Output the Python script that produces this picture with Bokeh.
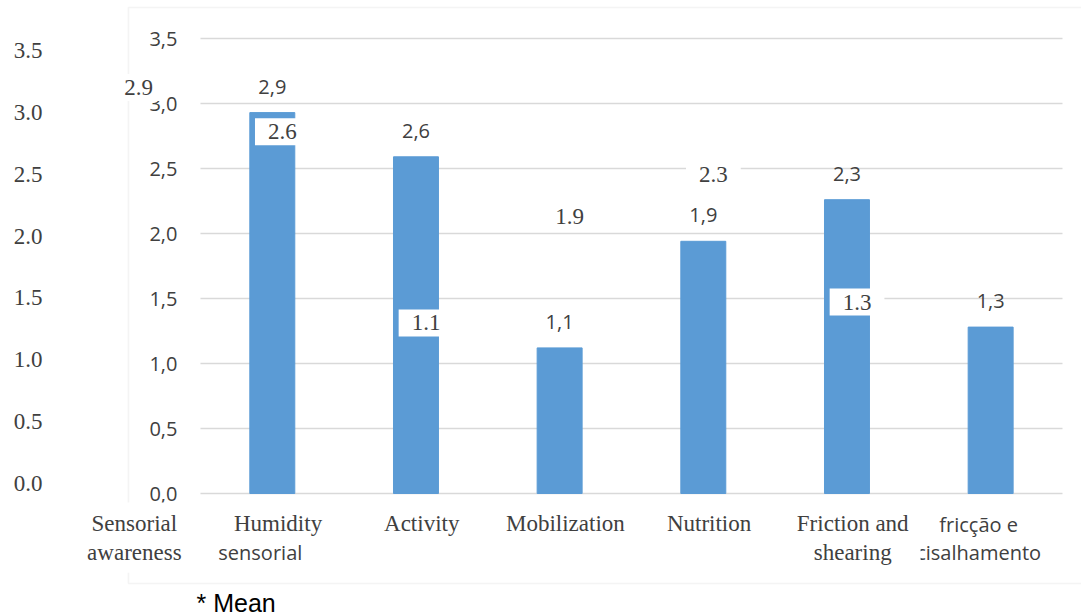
import numpy as np
from bokeh.plotting import figure
from bokeh.models import (Range1d, LinearAxis, FixedTicker, PrintfTickFormatter,
                          Label, BoxAnnotation)
from bokeh.core.properties import value
from bokeh.embed import file_html
from bokeh.resources import INLINE

# Mean scores per Braden subscale
values = [2.93, 2.59, 1.12, 1.94, 2.26, 1.28]
en_categories = ["Sensorial\nawareness", "Humidity", "Activity",
                 "Mobilization", "Nutrition", "Friction and\nshearing"]
pt_words = ["sensorial", "fricção e", "cisalhamento"]
pt_word_slot = [0, 5, 5]
pt_word_row = [1, 0, 1]
y_ticks = [0.0, 0.5, 1.0, 1.5, 2.0, 2.5, 3.0, 3.5]
note = "* Mean"

BAR = "#5B9BD5"
GRID = "#D9D9D9"
INK = "#404040"
SANS = "Open Sans"
SERIF = "Liberation Serif"

W, H = 1081, 616
FRAME_LEFT = 60
# pixel placement of the bar scale: slot 0 centre, slot pitch, zero line, px per unit
X0, XS = 271.8, 143.67
Y0, YS = 493.0, 130.0
# the English layer uses a slightly compressed value scale
Y0_EN, YS_EN = 483.0, 123.7


def dx(px):
    return (px - X0) / XS


def dy(py):
    return (Y0 - py) / YS


# the English labels sit almost one slot to the left of the bars
value_shift = -0.93
name_shift = -0.96

idx = np.arange(len(values))

p = figure(width=W, height=H,
           x_range=Range1d(dx(FRAME_LEFT), dx(W)),
           y_range=Range1d(dy(H), dy(0)),
           min_border_left=FRAME_LEFT, min_border_right=0,
           min_border_top=0, min_border_bottom=0,
           x_axis_location=None, y_axis_location=None,
           output_backend="svg", toolbar_location=None)
p.outline_line_color = None
p.background_fill_color = "white"
p.border_fill_color = "white"
p.xgrid.visible = False
p.ygrid.visible = False

# English axis on the left, point decimals
p.extra_y_ranges = {"en": Range1d((Y0_EN - H) / YS_EN, Y0_EN / YS_EN)}
en_axis = LinearAxis(y_range_name="en", ticker=FixedTicker(ticks=y_ticks),
                     formatter=PrintfTickFormatter(format="%.1f"))
en_axis.axis_line_color = None
en_axis.major_tick_line_color = None
en_axis.minor_tick_line_color = None
en_axis.major_tick_out = 0
en_axis.major_tick_in = 0
en_axis.major_label_standoff = 18
en_axis.major_label_text_font = SERIF
en_axis.major_label_text_font_size = "23px"
en_axis.major_label_text_color = INK
p.add_layout(en_axis, "left")

# outer frame of the figure area
p.add_layout(BoxAnnotation(left=dx(128), right=dx(W + 30), top=dy(7), bottom=dy(583),
                           fill_alpha=0, line_color=GRID, line_width=1.6))

# horizontal grid across the category span
n = len(values)
p.segment(x0=[-0.5] * len(y_ticks), x1=[n - 0.5] * len(y_ticks),
          y0=y_ticks, y1=y_ticks, line_color=GRID, line_width=1.6)

# value axis labels with comma decimals
p.text(x=[-0.5] * len(y_ticks), y=y_ticks,
       text=[f"{t:.1f}".replace(".", ",") for t in y_ticks],
       x_offset=-23, text_align="right", text_baseline="middle",
       text_font=value(SANS), text_font_size="20px", text_color=INK)

# bars
p.vbar(x=idx, top=values, width=0.313, color=BAR)

# comma value labels above the bars
p.text(x=idx, y=values, text=[f"{v:.1f}".replace(".", ",") for v in values],
       y_offset=-26, text_align="center", text_baseline="middle",
       text_font=value(SANS), text_font_size="20px", text_color=INK)

# remaining Portuguese category words
for word, slot, row in zip(pt_words, pt_word_slot, pt_word_row):
    p.add_layout(Label(x=slot, y=0, x_offset=-12, y_offset=-(31 + 28 * row),
                       text=word, text_align="center", text_baseline="middle",
                       text_font=SANS, text_font_size="20px", text_color=INK))

# English value labels on white boxes
for i, v in enumerate(values):
    p.add_layout(Label(x=i + value_shift, y=v, y_offset=25, text=f"{v:.1f}",
                       text_align="center", text_baseline="middle",
                       text_font=SERIF, text_font_size="23px", text_color=INK,
                       background_fill_color="white",
                       padding=dict(left=13, right=13, top=6, bottom=6)))

# English category labels on white boxes
for i, name in enumerate(en_categories):
    p.add_layout(Label(x=i + name_shift, y=dy(502), text=name,
                       text_align="center", text_baseline="top",
                       text_line_height=1.17,
                       text_font=SERIF, text_font_size="23px", text_color=INK,
                       background_fill_color="white",
                       padding=dict(left=12, right=12, top=8, bottom=8)))

p.add_layout(Label(x=dx(196), y=dy(602), text=note,
                   text_align="left", text_baseline="middle",
                   text_font="Liberation Sans", text_font_size="25px",
                   text_color="black"))

open("out.html", "w").write(file_html(p, INLINE))
